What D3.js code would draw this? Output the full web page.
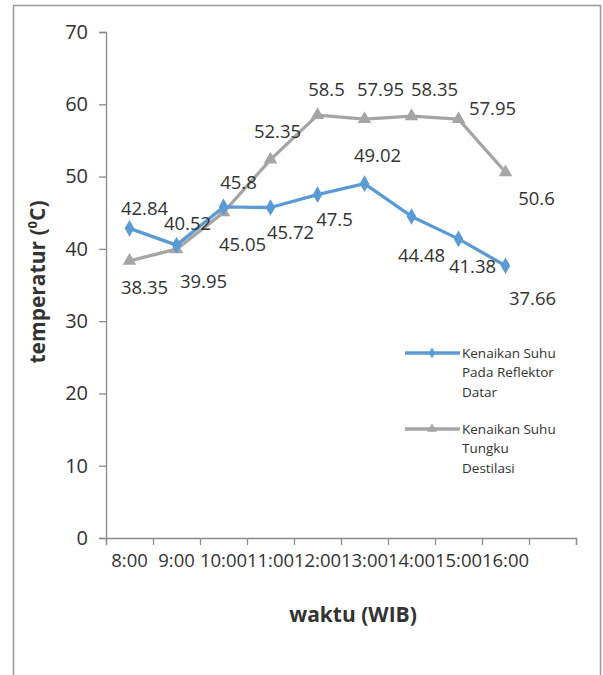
<!DOCTYPE html>
<html>
<head>
<meta charset="utf-8">
<script src="https://cdn.jsdelivr.net/npm/d3@7"></script>
<style>
  body { margin: 0; background: #fff; }
  text { font-family: "Open Sans", sans-serif; fill: #333; }
</style>
</head>
<body>
<div id="chart"></div>
<script>
// time of day (last slot is an empty category, as in the original sheet)
const times = ["8:00", "9:00", "10:00", "11:00", "12:00", "13:00", "14:00", "15:00", "16:00", ""];

const reflektor = [42.84, 40.52, 45.8, 45.72, 47.5, 49.02, 44.48, 41.38, 37.66];
const tungku = [38.35, 39.95, 45.05, 52.35, 58.5, 57.95, 58.35, 57.95, 50.6];

const yTicks = [0, 10, 20, 30, 40, 50, 60, 70];

const seriesNames = [
    ["Kenaikan Suhu", "Pada Reflektor", "Datar"],
    ["Kenaikan Suhu", "Tungku", "Destilasi"]
];

const width = 603;
const height = 675;
const margin = { top: 32, right: 27, bottom: 137, left: 106 };

const svg = d3.select("#chart")
    .append("svg")
    .attr("width", width)
    .attr("height", height);

// outer frame
svg.append("rect")
    .attr("x", 13.5)
    .attr("y", 5.5)
    .attr("width", 587)
    .attr("height", 700)
    .attr("fill", "none")
    .attr("stroke", "#999")
    .attr("stroke-width", 1.5);

const x = d3.scaleBand()
    .domain(times)
    .range([margin.left, width - margin.right]);

const y = d3.scaleLinear()
    .domain([0, 70])
    .range([height - margin.bottom, margin.top]);

// index scale, used only for the tick marks between categories
const xEdge = d3.scaleLinear()
    .domain([0, times.length])
    .range([margin.left, width - margin.right]);

const axisColor = "#8c8c8c";

// y axis
const gy = svg.append("g")
    .attr("transform", `translate(${margin.left},0)`)
    .call(d3.axisLeft(y).tickValues(yTicks).tickSize(7).tickPadding(11));
gy.select(".domain").attr("stroke", axisColor).attr("stroke-width", 1.3);
gy.selectAll(".tick line").attr("stroke", axisColor).attr("stroke-width", 1.3);
gy.selectAll(".tick text")
    .style("font-size", "20px")
    .attr("fill", "#333")
    .attr("font-family", "Open Sans");

// x axis: marks at category edges, labels at the centres
const gx = svg.append("g")
    .attr("transform", `translate(0,${y(0)})`)
    .call(d3.axisBottom(xEdge).ticks(times.length).tickSize(7).tickFormat(""));
gx.select(".domain").attr("stroke", axisColor).attr("stroke-width", 1.3);
gx.selectAll(".tick line").attr("stroke", axisColor).attr("stroke-width", 1.3);

const gxl = svg.append("g")
    .attr("transform", `translate(0,${y(0)})`)
    .call(d3.axisBottom(x).tickSize(0).tickPadding(20));
gxl.select(".domain").remove();
gxl.selectAll(".tick text")
    .style("font-size", "18.5px")
    .attr("fill", "#333")
    .attr("font-family", "Open Sans")
    .attr("dy", "0.5em");

// axis titles
svg.append("text")
    .attr("transform", `translate(45,${(margin.top + y(0)) / 2 - 3}) rotate(-90)`)
    .attr("text-anchor", "middle")
    .style("font-size", "21px")
    .style("font-weight", "bold")
    .attr("fill", "#1a1a1a")
    .html('temperatur (<tspan font-size="13px" dy="-8">0</tspan><tspan dy="8">C)</tspan>');

svg.append("text")
    .attr("x", 353)
    .attr("y", 622)
    .attr("text-anchor", "middle")
    .style("font-size", "21px")
    .style("font-weight", "bold")
    .attr("fill", "#1a1a1a")
    .text("waktu (WIB)");

const colors = ["#5b9bd5", "#a5a5a5"];
const series = [reflektor, tungku];

const line = d3.line()
    .x((d, i) => x(times[i]) + x.bandwidth() / 2)
    .y(d => y(d));

const diamond = d3.symbol().type(d3.symbolDiamond).size(80);
const triangle = d3.symbol().type(d3.symbolTriangle).size(80);
const shapes = [diamond, triangle];

// draw grey first so the blue line sits on top
[1, 0].forEach(s => {
    svg.append("path")
        .datum(series[s])
        .attr("fill", "none")
        .attr("stroke", colors[s])
        .attr("stroke-width", 3.3)
        .attr("stroke-linejoin", "round")
        .attr("d", line);

    svg.selectAll(".m" + s)
        .data(series[s])
        .enter().append("path")
        .attr("class", "m" + s)
        .attr("transform", (d, i) => `translate(${x(times[i]) + x.bandwidth() / 2},${y(d)})`)
        .attr("d", shapes[s])
        .attr("fill", colors[s]);
});

// data label offsets (as they sit in the picture)
const labelOffsets = [
    [[15, -20], [11, -22], [15, -24], [20, 25], [17, 25], [13, -28], [10, 39], [14, 28], [27, 33]],
    [[15, 27], [27, 32], [19, 32], [7, -28], [9, -26], [16, -30], [23, -27], [34, -11], [31, 26]]
];

[0, 1].forEach(s => {
    svg.selectAll(".lab" + s)
        .data(series[s])
        .enter().append("text")
        .attr("class", "lab" + s)
        .attr("x", (d, i) => x(times[i]) + x.bandwidth() / 2 + labelOffsets[s][i][0])
        .attr("y", (d, i) => y(d) + labelOffsets[s][i][1])
        .attr("dy", "0.35em")
        .attr("text-anchor", "middle")
        .style("font-size", "18.5px")
        .attr("fill", "#1a1a1a")
        .text(d => d);
});

// legend
const legend = svg.append("g");
const legendTop = [353, 429];
seriesNames.forEach((names, s) => {
    const ly = legendTop[s];
    legend.append("line")
        .attr("x1", 405).attr("x2", 460)
        .attr("y1", ly).attr("y2", ly)
        .attr("stroke", colors[s])
        .attr("stroke-width", 3.3);
    legend.append("path")
        .attr("transform", `translate(432,${ly})`)
        .attr("d", s === 0 ? d3.symbol().type(d3.symbolDiamond).size(35) : d3.symbol().type(d3.symbolTriangle).size(40))
        .attr("fill", colors[s]);
    names.forEach((t, k) => {
        legend.append("text")
            .attr("x", 462)
            .attr("y", ly + k * 19.5)
            .attr("dy", "0.35em")
            .style("font-size", "13.5px")
            .attr("fill", "#333")
            .text(t);
    });
});
</script>
</body>
</html>
